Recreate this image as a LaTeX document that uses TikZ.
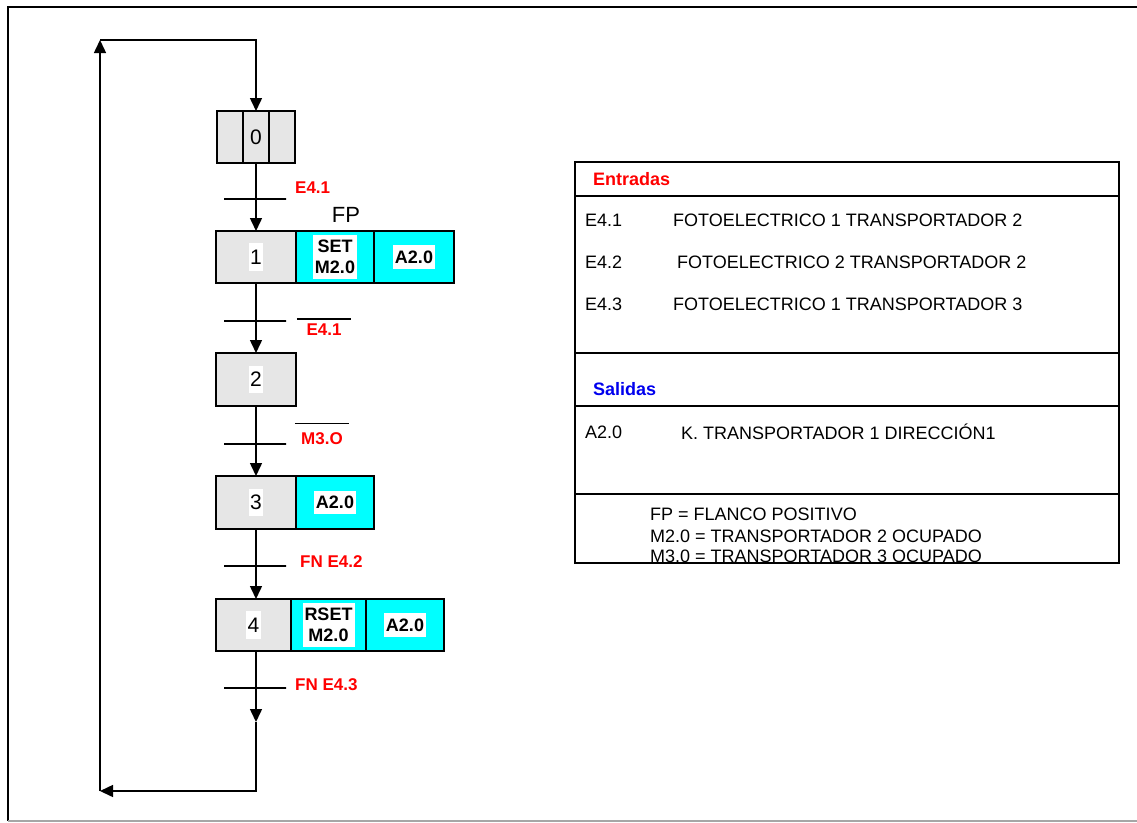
\documentclass[tikz,border=0pt]{standalone}
\usepackage{fontspec}
\setmainfont{Liberation Sans}
\usetikzlibrary{arrows.meta,positioning,calc}
\definecolor{stepgray}{RGB}{230,230,230}
\definecolor{actcyan}{RGB}{0,255,255}
\definecolor{labred}{RGB}{255,0,0}
\definecolor{labblue}{RGB}{0,0,238}
\tikzset{
    stepbox/.style = {draw, fill=stepgray, rectangle, line width=1.5pt, minimum height=52pt, minimum width=80pt, outer sep=0pt, inner sep=0pt},
    actbox/.style = {draw, fill=actcyan, rectangle, line width=1.5pt, minimum height=52pt, minimum width=78pt, outer sep=0pt, inner sep=0pt},
    numtag/.style = {fill=white, font=\fontsize{21}{23}\selectfont, inner xsep=1.5pt, inner ysep=6.5pt},
    acttag/.style = {fill=white, font=\bfseries\fontsize{18}{21}\selectfont, align=center, inner xsep=2pt, inner ysep=5.5pt},
    tbar/.style = {draw, line width=1.3pt, minimum width=62pt, minimum height=0pt, inner sep=0pt, outer sep=0pt},
    cond/.style = {text=labred, font=\bfseries\fontsize{17}{19}\selectfont, inner sep=0pt},
    fplabel/.style = {font=\fontsize{22}{24}\selectfont, inner sep=0pt},
    flow/.style = {line width=1.5pt, -{Triangle[length=13pt,width=12pt]}},
    line/.style = {line width=1.5pt},
    tabtext/.style = {font=\fontsize{18}{20}\selectfont, anchor=west, inner sep=0pt},
    tabhead/.style = {font=\bfseries\fontsize{18}{20}\selectfont, anchor=west, inner sep=0pt},
}

\begin{document}
\begin{tikzpicture}[x=1pt, y=-1pt]
    \useasboundingbox (0,0) rectangle (1137,822);
    % Frame
    \draw[line width=2pt] (1137,7) -- (8,7) -- (8,821);
    \draw[line width=2pt, black!35] (8,821) -- (1137,821);

    % Steps
    \node[stepbox, minimum width=78pt, font=\fontsize{21}{23}\selectfont] (s0) at (256,137) {0};
    \draw[line] ($(s0.north west)!1/3!(s0.north east)$) -- ($(s0.south west)!1/3!(s0.south east)$);
    \draw[line] ($(s0.north west)!2/3!(s0.north east)$) -- ($(s0.south west)!2/3!(s0.south east)$);

    \node[stepbox, label={[numtag]center:1}] (s1) at (256,257) {};
    \node[actbox, right=0pt of s1, label={[acttag]center:SET\\M2.0}] (s1set) {};
    \node[actbox, right=0pt of s1set, minimum width=80pt, label={[acttag]center:A2.0}] (s1out) {};

    \node[stepbox, minimum height=53pt, label={[numtag]center:2}] (s2) at (256,379.5) {};

    \node[stepbox, minimum height=53pt, label={[numtag]center:3}] (s3) at (256,502.5) {};
    \node[actbox, right=0pt of s3, minimum height=53pt, label={[acttag]center:A2.0}] (s3out) {};

    \node[stepbox, minimum width=75pt, label={[numtag]center:4}] (s4) at (253.5,625) {};
    \node[actbox, right=0pt of s4, minimum width=75pt, label={[acttag]center:RSET\\M2.0}] (s4rset) {};
    \node[actbox, right=0pt of s4rset, label={[acttag]center:A2.0}] (s4out) {};

    % Transitions
    \node[tbar] (t1) at (255,199) {};
    \node[tbar] (t2) at (255,321) {};
    \node[tbar] (t3) at (255,444) {};
    \node[tbar] (t4) at (255,566) {};
    \node[tbar] (t5) at (255,688) {};

    % Conditions
    \node[cond, anchor=west] (c1) at (295,188) {E4.1};
    \node[fplabel] (fp) at (346,215) {FP};
    \node[cond, minimum width=54pt] (c2) at (324,330) {E4.1};
    \draw[line width=1.3pt] ([yshift=5pt]c2.north west) -- ([yshift=5pt]c2.north east);
    \node[cond, minimum width=54pt] (c3) at (322,439) {M3.O};
    \draw[line width=1.3pt] ([yshift=9pt]c3.north west) -- ([yshift=9pt]c3.north east);
    \node[cond, anchor=west] (c4) at (300,562) {FN E4.2};
    \node[cond, anchor=west] (c5) at (295,685) {FN E4.3};

    % Sequence
    \coordinate (ret) at (256,722);
    \coordinate (bot) at (256,791);
    \coordinate (botl) at (100,791);
    \coordinate (topl) at (100,40);
    \coordinate (top) at (256,40);
    \draw[flow] (s0) -- (s1);
    \draw[flow] (s1) -- (s2);
    \draw[flow] (s2) -- (s3);
    \draw[flow] (s3) -- (s4.north -| s3);
    \draw[flow] (s4.south -| ret) -- (ret);
    \draw[flow] (ret) -- (bot) -- (botl);
    \draw[flow] (botl) -- (topl);
    \draw[flow] (topl) -- (top) -- (s0);

    % Legend
    \draw[line] (575,162) rectangle (1119,563);
    \foreach \yy in {196,353,406,494}
        \draw[line] (575,\yy) -- (1119,\yy);
    \node[tabhead, text=labred] (ent) at (593,179) {Entradas};
    \node[tabtext] (e41) at (585,220) {E4.1};
    \node[tabtext] (e41d) at (673,220) {FOTOELECTRICO 1 TRANSPORTADOR 2};
    \node[tabtext] (e42) at (585,262) {E4.2};
    \node[tabtext] (e42d) at (677,262) {FOTOELECTRICO 2 TRANSPORTADOR 2};
    \node[tabtext] (e43) at (585,304) {E4.3};
    \node[tabtext] (e43d) at (673,304) {FOTOELECTRICO 1 TRANSPORTADOR 3};
    \node[tabhead, text=labblue] (sal) at (593,389) {Salidas};
    \node[tabtext] (a20) at (585,432) {A2.0};
    \node[tabtext] (a20d) at (681,432) {K. TRANSPORTADOR 1 DIRECCIÓN1};
    \node[tabtext] (n1) at (650,514) {FP = FLANCO POSITIVO};
    \node[tabtext] (n2) at (650,536) {M2.0 = TRANSPORTADOR 2 OCUPADO};
    \node[tabtext] (n3) at (650,556) {M3.0 = TRANSPORTADOR 3 OCUPADO};
\end{tikzpicture}
\end{document}
